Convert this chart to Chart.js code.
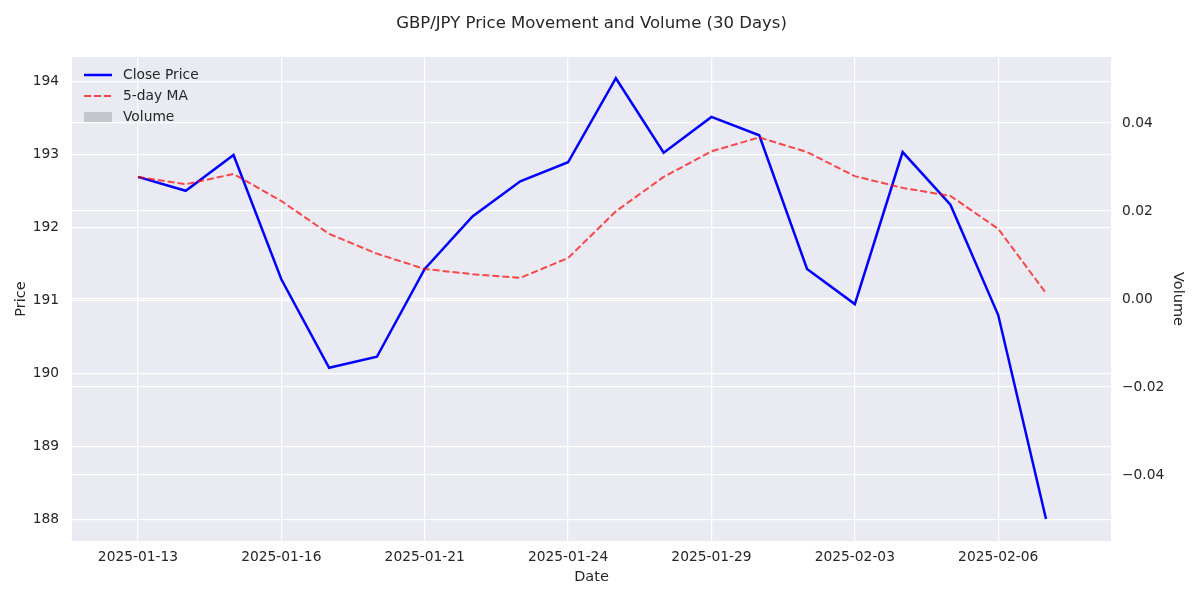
<!DOCTYPE html>
<html>
<head>
<meta charset="utf-8">
<script src="https://cdn.jsdelivr.net/npm/chart.js@4.4.1/dist/chart.umd.min.js"></script>
<style>
  html, body { margin: 0; padding: 0; background: #ffffff; }
  #wrap { width: 1200px; height: 600px; position: relative; }
</style>
</head>
<body>
<div id="wrap"><canvas id="grafico" width="1200" height="600"></canvas></div>
<script>
// dados
const datas = ["2025-01-13", "2025-01-14", "2025-01-15", "2025-01-16", "2025-01-17",
    "2025-01-20", "2025-01-21", "2025-01-22", "2025-01-23", "2025-01-24",
    "2025-01-27", "2025-01-28", "2025-01-29", "2025-01-30", "2025-01-31",
    "2025-02-03", "2025-02-04", "2025-02-05", "2025-02-06", "2025-02-07"]
const fechamento = [192.69, 192.50, 192.99, 191.29, 190.08, 190.23, 191.43, 192.15, 192.63, 192.89,
    194.04, 193.02, 193.51, 193.26, 191.43, 190.95, 193.03, 192.31, 190.80, 188.01]
const media5 = [192.69, 192.59, 192.73, 192.36, 191.91, 191.64, 191.43, 191.36, 191.31, 191.58,
    192.22, 192.69, 193.04, 193.23, 193.03, 192.70, 192.54, 192.43, 191.98, 191.10]
const volume = [0, 0, 0, 0, 0, 0, 0, 0, 0, 0, 0, 0, 0, 0, 0, 0, 0, 0, 0, 0]
const ticksData = [0, 3, 6, 9, 12, 15, 18]
const ticksPreco = [188, 189, 190, 191, 192, 193, 194]
const ticksVolume = [-0.04, -0.02, 0, 0.02, 0.04]

const fonte = "'DejaVu Sans', sans-serif"
const corTexto = "#262626"

const pontos = arr => arr.map((v, i) => ({ x: i, y: v }))

const fundoPlugin = {
    id: "fundo",
    beforeDraw(chart) {
        const { ctx, chartArea: a } = chart
        ctx.save()
        ctx.fillStyle = "#eaeaf2"
        ctx.fillRect(a.left, a.top, a.right - a.left, a.bottom - a.top)
        ctx.restore()
    }
}

const tituloLegendaPlugin = {
    id: "tituloLegenda",
    afterDraw(chart) {
        const { ctx, chartArea: a } = chart
        ctx.save()
        ctx.fillStyle = corTexto
        ctx.font = "16.5px " + fonte
        ctx.textAlign = "center"
        ctx.textBaseline = "middle"
        ctx.fillText("GBP/JPY Price Movement and Volume (30 Days)", (a.left + a.right) / 2, 24)

        // legenda
        const x0 = a.left + 12
        let y = a.top + 18
        ctx.font = "13.8px " + fonte
        ctx.textAlign = "left"
        const itens = chart.data.datasets
        ;[1, 2, 0].forEach(idx => {
            const ds = itens[idx]
            if (ds.type === "bar") {
                ctx.fillStyle = "rgba(128,128,140,0.35)"
                ctx.fillRect(x0, y - 5, 28, 10)
            } else {
                ctx.strokeStyle = ds.borderColor
                ctx.lineWidth = ds.borderWidth
                ctx.setLineDash(ds.borderDash || [])
                ctx.beginPath()
                ctx.moveTo(x0, y)
                ctx.lineTo(x0 + 28, y)
                ctx.stroke()
                ctx.setLineDash([])
            }
            ctx.fillStyle = corTexto
            ctx.fillText(ds.label, x0 + 39, y)
            y += 21
        })
        ctx.restore()
    }
}

const grafico = new Chart(document.getElementById("grafico"), {
    data: {
        datasets: [
            {
                type: "bar",
                label: "Volume",
                data: pontos(volume),
                yAxisID: "yVol",
                backgroundColor: "rgba(128,128,140,0.35)",
                borderWidth: 0,
                barPercentage: 0.8,
                order: 3
            },
            {
                type: "line",
                label: "Close Price",
                data: pontos(fechamento),
                yAxisID: "y",
                borderColor: "#0000ff",
                borderWidth: 2.5,
                pointRadius: 0,
                tension: 0,
                order: 2
            },
            {
                type: "line",
                label: "5-day MA",
                data: pontos(media5),
                yAxisID: "y",
                borderColor: "rgba(255,0,0,0.7)",
                borderWidth: 2,
                borderDash: [7, 3],
                pointRadius: 0,
                tension: 0,
                order: 1
            }
        ]
    },
    options: {
        responsive: false,
        animation: false,
        layout: { padding: { top: 57, left: 0, right: 0, bottom: 0 } },
        plugins: {
            legend: { display: false },
            tooltip: { enabled: false },
            title: { display: false }
        },
        scales: {
            x: {
                type: "linear",
                offset: false,
                min: -1.38,
                max: 20.36,
                afterBuildTicks: s => { s.ticks = ticksData.map(v => ({ value: v })) },
                afterFit: s => { s.height = 59 },
                ticks: {
                    callback: v => datas[v],
                    color: corTexto,
                    font: { family: fonte, size: 13.8 },
                    padding: 8,
                    maxRotation: 0,
                    autoSkip: false
                },
                grid: { color: "#ffffff", lineWidth: 1.2, drawTicks: false, offset: false },
                border: { display: false },
                title: {
                    display: true,
                    text: "Date",
                    color: corTexto,
                    font: { family: fonte, size: 14.5 },
                    padding: { top: 2, bottom: 14 }
                }
            },
            y: {
                position: "left",
                min: 187.71,
                max: 194.33,
                afterBuildTicks: s => { s.ticks = ticksPreco.map(v => ({ value: v })) },
                afterFit: s => { s.width = 72 },
                ticks: {
                    color: corTexto,
                    font: { family: fonte, size: 13.8 },
                    padding: 13
                },
                grid: { color: "#ffffff", lineWidth: 1.2, drawTicks: false },
                border: { display: false },
                title: {
                    display: true,
                    text: "Price",
                    color: corTexto,
                    font: { family: fonte, size: 14.5 },
                    padding: { top: 13, bottom: 0 }
                }
            },
            yVol: {
                position: "right",
                min: -0.055,
                max: 0.055,
                afterBuildTicks: s => { s.ticks = ticksVolume.map(v => ({ value: v })) },
                afterFit: s => { s.width = 89 },
                ticks: {
                    callback: v => (v < -1e-9 ? "\u2212" : "") + Math.abs(v).toFixed(2),
                    color: corTexto,
                    font: { family: fonte, size: 13.8 },
                    padding: 11
                },
                grid: { color: "#ffffff", lineWidth: 1.2, drawTicks: false },
                border: { display: false },
                title: {
                    display: true,
                    text: "Volume",
                    color: corTexto,
                    font: { family: fonte, size: 14.5 },
                    padding: { top: 14, bottom: 0 }
                }
            }
        }
    },
    plugins: [fundoPlugin, tituloLegendaPlugin]
})
</script>
</body>
</html>
